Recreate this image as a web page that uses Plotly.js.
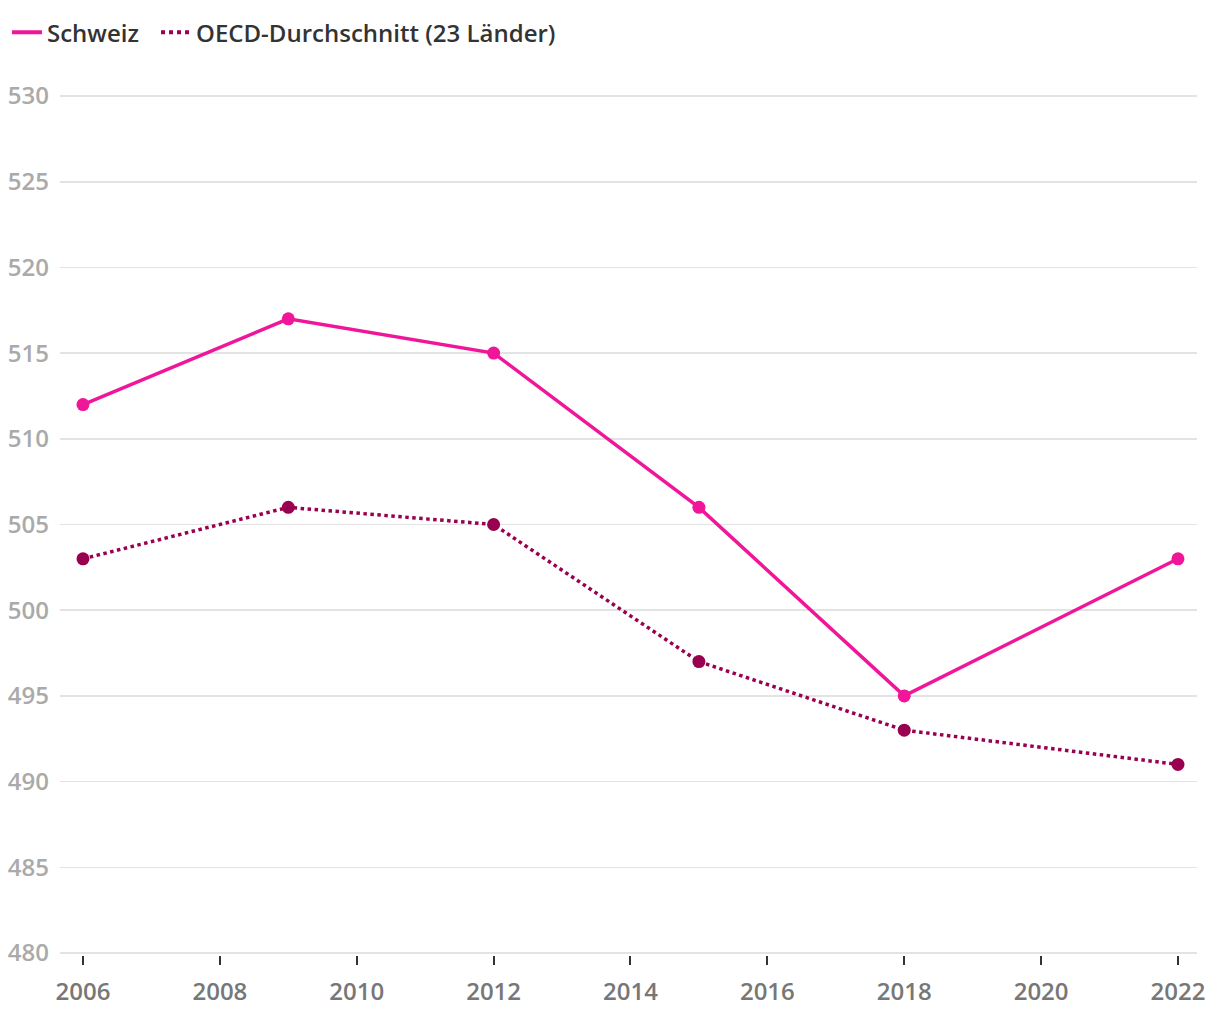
<!DOCTYPE html>
<html>
<head>
<meta charset="utf-8">
<script src="https://cdn.plot.ly/plotly-3.0.1.min.js"></script>
<style>
  html, body { margin: 0; padding: 0; background: #fff; }
  #chart { width: 1220px; height: 1020px; }
</style>
</head>
<body>
<div id="chart"></div>
<script>
// PISA-Werte, Schweiz vs. OECD
const years = [2006, 2009, 2012, 2015, 2018, 2022];
const schweiz = [512, 517, 515, 506, 495, 503];
const oecd = [503, 506, 505, 497, 493, 491];
const seriesNames = ['Schweiz', 'OECD-Durchschnitt (23 Länder)'];
const xTicks = [2006, 2008, 2010, 2012, 2014, 2016, 2018, 2020, 2022];
const yTicks = [480, 485, 490, 495, 500, 505, 510, 515, 520, 525, 530];

const pink = '#f0169a';
const plum = '#99004f';

const traces = [
    {
        x: years, y: schweiz,
        name: seriesNames[0],
        mode: 'lines+markers',
        showlegend: false,
        line: { color: pink, width: 3.5 },
        marker: { color: pink, size: 13 }
    },
    {
        x: years, y: oecd,
        name: seriesNames[1],
        mode: 'lines+markers',
        showlegend: false,
        line: { color: plum, width: 3.5, dash: 'dot' },
        marker: { color: plum, size: 13 }
    },
    // legend entries: line only, no marker; two legends to place them freely
    {
        x: [null], y: [null],
        name: seriesNames[0],
        mode: 'lines',
        legend: 'legend',
        line: { color: pink, width: 4 }
    },
    {
        x: [null], y: [null],
        name: seriesNames[1],
        mode: 'lines',
        legend: 'legend2',
        line: { color: plum, width: 4, dash: 'dot' }
    }
];

const legendBase = {
    orientation: 'h',
    xref: 'container', xanchor: 'left',
    yref: 'container', yanchor: 'middle',
    y: 0.968,
    font: { size: 24, color: '#333', weight: 600 },
    itemwidth: 30
};

const layout = {
    width: 1220,
    height: 1020,
    // range padded a bit so the 480/530 gridlines still get drawn
    margin: { l: 60, r: 23, t: 94, b: 65, autoexpand: false },
    paper_bgcolor: '#fff',
    plot_bgcolor: '#fff',
    font: { family: 'Open Sans, Noto Sans, sans-serif', size: 24, color: '#333', weight: 600 },
    showlegend: true,
    legend: Object.assign({}, legendBase, { x: 0.0057 }),
    legend2: Object.assign({}, legendBase, { x: 0.1279 }),
    xaxis: {
        range: [2005.664, 2022.278],
        tickvals: xTicks,
        ticktext: xTicks.map(String),
        showgrid: false,
        zeroline: false,
        showline: false,
        ticks: 'outside',
        ticklen: 9,
        tickwidth: 2,
        tickcolor: '#333',
        ticklabelstandoff: 6,
        tickfont: { size: 24, color: '#777', weight: 600 }
    },
    yaxis: {
        range: [479.88, 530.12],
        tickvals: yTicks,
        showgrid: true,
        gridcolor: '#e3e3e3',
        gridwidth: 1.5,
        zeroline: false,
        showline: false,
        ticks: '',
        ticklabelstandoff: 10,
        tickfont: { size: 24, color: '#aaa', weight: 600 }
    }
};

Plotly.newPlot('chart', traces, layout, { displayModeBar: false, staticPlot: true });
</script>
</body>
</html>
